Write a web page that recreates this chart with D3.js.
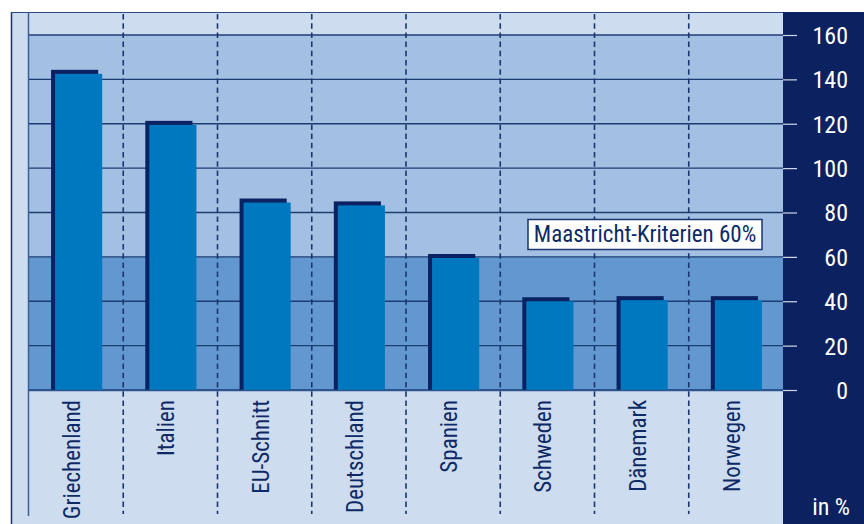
<!DOCTYPE html>
<html><head><meta charset="utf-8">
<script src="https://cdn.jsdelivr.net/npm/d3@7"></script>
<style>
html,body{margin:0;padding:0;background:#fff;}
svg{display:block;}
text{font-family:"Liberation Sans Narrow","Arial Narrow","Roboto Condensed",sans-serif;}
</style></head>
<body>
<svg id="chart" width="864" height="524"></svg>
<script>
const categories = ["Griechenland","Italien","EU-Schnitt","Deutschland","Spanien","Schweden","Dänemark","Norwegen"];
const values = [142.5, 119.5, 84.5, 83.2, 59.5, 40.0, 40.5, 40.5];
const tickValues = [0,20,40,60,80,100,120,140,160];
const tickLabels = ["0","20","40","60","80","100","120","140","160"];
const thresholdValue = 60;
const thresholdLabel = "Maastricht-Kriterien 60%";
const unitLabel = "in %";

(function(){
const svg = d3.select("#chart");
const W = 864, H = 524;
const plotL = 29, plotR = 783, topY = 12;
const x = d3.scaleBand().domain(categories).range([plotL, plotR]).padding(0);
const y = d3.scaleLinear().domain([0,160]).range([390, 35]);
const bw = x.bandwidth();

const light = "#cddcee", mid = "#a3bfe1", low = "#6298cf", navy = "#0b2160";

// frame / backgrounds
svg.append("rect").attr("x",11).attr("y",topY).attr("width",plotR-11).attr("height",H-topY).attr("fill",light);
svg.append("rect").attr("x",plotL).attr("y",y(160)).attr("width",plotR-plotL).attr("height",y(thresholdValue)-y(160)).attr("fill",mid);
svg.append("rect").attr("x",plotL).attr("y",y(thresholdValue)).attr("width",plotR-plotL).attr("height",y(0)-y(thresholdValue)).attr("fill",low);
svg.append("line").attr("x1",11.5).attr("x2",11.5).attr("y1",topY).attr("y2",H).attr("stroke","#1a3266").attr("stroke-width",1.5);
svg.append("line").attr("x1",11).attr("x2",plotR).attr("y1",topY+0.5).attr("y2",topY+0.5).attr("stroke","#2a4a86").attr("stroke-width",1.2);
svg.append("line").attr("x1",plotL-0.5).attr("x2",plotL-0.5).attr("y1",topY).attr("y2",516).attr("stroke","#3d5f96").attr("stroke-width",1.5);

// grid lines
svg.append("g").selectAll("line").data(tickValues).join("line")
  .attr("x1",plotL).attr("x2",plotR)
  .attr("y1",d=>y(d)).attr("y2",d=>y(d))
  .attr("stroke","#1e3c74").attr("stroke-width",1.4);

// dashed dividers
svg.append("g").selectAll("line").data(categories.slice(1)).join("line")
  .attr("x1",d=>x(d)).attr("x2",d=>x(d))
  .attr("y1",topY+2).attr("y2",514)
  .attr("stroke","#1b3670").attr("stroke-width",1.6)
  .attr("stroke-dasharray","5.5,3.7");

// bars
const bars = svg.append("g").selectAll("g").data(categories).join("g");
bars.append("rect")
  .attr("x",(d)=>x(d)+bw*0.25-1.5)
  .attr("y",(d,i)=>y(values[i])-4)
  .attr("width",bw*0.5)
  .attr("height",(d,i)=>y(0)-y(values[i])+4)
  .attr("fill","#0a2262");
bars.append("rect")
  .attr("x",(d)=>x(d)+bw*0.25+2.5)
  .attr("y",(d,i)=>y(values[i]))
  .attr("width",bw*0.5)
  .attr("height",(d,i)=>y(0)-y(values[i]))
  .attr("fill","#0078bf");

// baseline
svg.append("line").attr("x1",plotL).attr("x2",plotR).attr("y1",y(0)+0.5).attr("y2",y(0)+0.5)
  .attr("stroke","#2d568f").attr("stroke-width",1.5);

// threshold label box
const lg = svg.append("g");
lg.append("rect").attr("x",528).attr("y",219.5).attr("width",234).attr("height",30)
  .attr("fill","#fff").attr("stroke","#1a3570").attr("stroke-width",1.5);
lg.append("text").attr("x",645).attr("y",242).attr("text-anchor","middle")
  .attr("font-size",23).attr("fill","#0d2a66").text(thresholdLabel);

// category labels
svg.append("g").selectAll("text").data(categories).join("text")
  .attr("transform",d=>`translate(${x(d)+bw/2+4},400) rotate(-90)`)
  .attr("text-anchor","end")
  .attr("font-size",23).attr("fill","#0d2a66")
  .text(d=>d);

// right panel and axis
svg.append("rect").attr("x",plotR).attr("y",topY).attr("width",W-plotR).attr("height",H-topY).attr("fill",navy);
const axis = d3.axisRight(y).tickValues(tickValues).tickFormat((d,i)=>tickLabels[i]).tickSize(14).tickPadding(0);
const ag = svg.append("g").attr("transform",`translate(${plotR},0)`).call(axis);
ag.select(".domain").remove();
ag.selectAll(".tick line").attr("stroke","#d0d8e8").attr("stroke-width",1.2);
ag.selectAll(".tick text").attr("fill","#fff").attr("font-size",24)
  .attr("text-anchor","end").attr("x",W-plotR-16).attr("dy","0.35em")
  .attr("font-family",'"Liberation Sans Narrow","Arial Narrow",sans-serif');
svg.append("text").attr("x",850).attr("y",515).attr("text-anchor","end")
  .attr("font-size",24).attr("fill","#fff").text(unitLabel);
})();
</script>
</body></html>
